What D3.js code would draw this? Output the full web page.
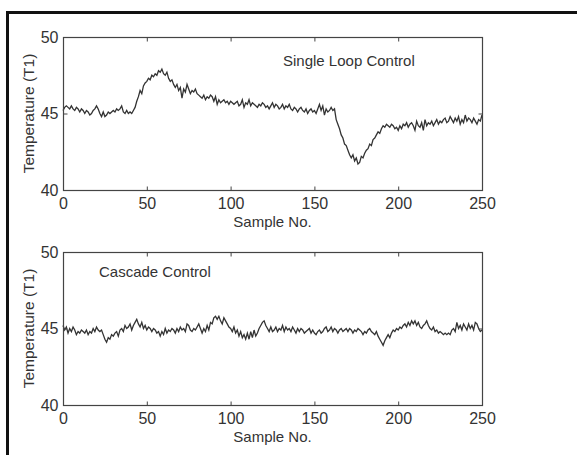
<!DOCTYPE html>
<html>
<head>
<meta charset="utf-8">
<script src="https://cdn.jsdelivr.net/npm/d3@7"></script>
<style>
  body { margin: 0; background: #fff; }
  text { font-family: "Liberation Sans", Arial, sans-serif; fill: #333; }
</style>
</head>
<body>
<script>
var width = 577, height = 455;

// x ticks and y ticks
var xTicks = [0, 50, 100, 150, 200, 250];
var yTicks = [40, 45, 50];

// single loop control, samples 0..250
var singleLoop = [
  45.2, 45.4, 45.5, 45.4, 45.3, 45.5, 45.3, 45.2, 45.4, 45.3,
  45.1, 45.3, 45.2, 45.0, 45.2, 45.1, 44.9, 45.0, 45.2, 45.3,
  45.5, 45.3, 45.0, 44.8, 45.1, 44.8, 44.9, 45.1, 45.0, 45.1,
  45.2, 45.1, 45.3, 45.2, 45.3, 45.5, 45.1, 45.0, 45.2, 45.0,
  45.1, 45.0, 45.2, 45.4, 45.8, 46.1, 46.5, 46.3, 46.8, 47.0,
  47.1, 47.3, 47.2, 47.5, 47.4, 47.6, 47.5, 47.8, 47.7, 47.9,
  47.6, 47.5, 47.7, 47.3, 47.1, 47.2, 46.9, 46.7, 46.9, 46.5,
  46.7, 46.0, 46.6, 46.4, 46.9, 46.6, 46.3, 46.5, 46.4, 46.6,
  46.3, 46.2, 46.1, 46.0, 46.2, 45.9, 46.1, 46.0, 46.2, 46.1,
  45.8, 46.1, 45.6, 45.9, 45.7, 45.8, 45.9, 45.7, 45.8, 45.6,
  45.8, 45.7, 45.6, 45.7, 45.8, 45.5, 45.6, 45.9, 45.4, 45.7,
  45.6, 45.9, 45.5, 45.7, 45.6, 45.5, 45.4, 45.6, 45.5, 45.7,
  45.6, 45.4, 45.5, 45.3, 45.5, 45.7, 45.4, 45.6, 45.5, 45.3,
  45.4, 45.6, 45.3, 45.5, 45.4, 45.6, 45.3, 45.2, 45.4, 45.3,
  45.1, 45.3, 45.4, 45.2, 45.1, 45.3, 45.0, 45.2, 45.3, 45.1,
  45.2, 45.0, 45.3, 45.6, 45.2, 45.5, 44.9, 45.3, 45.1, 45.2,
  45.4, 45.2, 45.3, 44.6, 44.3, 44.0, 43.6, 43.4, 43.0, 42.9,
  42.6, 42.3, 42.1, 42.3, 41.9, 42.1, 41.7, 41.8, 42.2, 42.1,
  42.4, 42.6, 42.7, 43.0, 42.9, 43.3, 43.4, 43.6, 43.8, 43.7,
  44.0, 44.2, 44.1, 44.3, 44.2, 44.1, 44.3, 44.2, 44.0, 44.1,
  43.9, 44.2, 44.0, 44.3, 44.2, 44.4, 44.1, 44.3, 44.4, 44.2,
  43.9, 44.5, 44.2, 44.1, 44.4, 43.9, 44.6, 44.2, 44.4, 44.3,
  44.5, 44.2, 44.4, 44.6, 44.3, 44.5, 44.4, 44.6, 44.7, 44.4,
  44.5, 44.8, 44.6, 44.4, 44.7, 44.5, 44.8, 44.3, 44.6, 44.4,
  44.9, 44.5, 44.7, 44.6, 44.4, 44.7, 44.5, 44.3, 44.6, 44.5,
  44.9
];

// cascade control, samples 0..250
var cascade = [
  45.2, 44.9, 45.1, 44.7, 45.0, 44.8, 45.1, 44.9, 44.6, 44.8,
  44.7, 44.9, 44.8, 44.7, 44.9, 44.6, 44.8, 44.7, 45.0, 44.8,
  45.1, 44.9, 44.8, 44.9, 44.6, 44.3, 44.1, 44.4, 44.3, 44.6,
  44.5, 44.7, 44.8, 44.5, 44.9, 45.0, 44.8, 45.2, 45.0, 45.1,
  45.3, 44.9, 45.2, 45.4, 45.6, 45.3, 45.1, 45.4, 45.0, 45.2,
  44.9, 45.1, 45.0, 44.8, 45.0, 44.9, 44.7, 44.8, 44.5, 44.8,
  44.6, 45.0, 44.7, 44.9, 44.8, 45.0, 44.9, 44.7, 45.0, 44.8,
  45.1, 44.9, 45.0, 44.8, 45.3, 45.2, 44.9, 44.8, 45.0, 44.9,
  45.1, 45.3, 45.0, 44.7, 45.0, 44.8, 45.2, 44.9, 45.4, 45.3,
  45.7, 45.8, 45.6, 45.8, 45.5, 45.3, 45.7, 45.5, 45.3, 45.1,
  45.0, 44.8, 45.1, 44.7, 44.9, 44.5, 44.8, 44.4, 44.6, 44.3,
  44.7, 44.3, 44.8, 44.4, 44.9, 44.5, 44.7, 45.0, 45.2, 45.4,
  45.5, 45.2, 45.0, 44.8, 45.1, 44.8, 44.9, 45.1, 44.8, 45.0,
  44.9, 45.2, 44.8, 45.1, 44.9, 45.0, 44.8, 45.1, 44.9, 44.7,
  45.0, 44.8, 45.0, 44.9, 44.7, 44.8, 44.9, 45.0, 44.7, 44.9,
  44.7, 44.6, 44.8, 44.9, 44.7, 44.8, 45.0, 45.1, 44.8, 44.9,
  45.1, 44.8, 45.0, 44.9, 44.7, 44.9, 45.0, 44.8, 44.9, 45.0,
  44.8, 45.0, 44.9, 44.7, 44.9, 44.8, 45.0, 44.9, 44.8, 44.6,
  44.8, 44.7, 44.9, 45.0, 44.8, 44.7, 44.6, 44.8, 44.5, 44.3,
  44.1, 43.9, 44.2, 44.4, 44.6, 44.4, 44.7, 44.9, 44.8, 45.0,
  44.9, 45.1, 45.0, 45.2, 45.3, 45.1, 45.4, 45.2, 45.5, 45.3,
  45.5, 45.2, 45.4, 45.1, 45.0, 45.2, 45.3, 45.5, 45.2, 45.0,
  44.9, 45.1, 44.8, 44.9, 44.7, 44.8, 44.7, 44.6, 44.7, 44.6,
  44.7, 44.6, 44.9, 45.0, 44.8, 45.4, 45.0, 45.2, 44.9, 45.3,
  45.1, 44.9, 45.3, 45.0, 45.2, 44.9, 45.4, 45.3, 45.0, 44.8,
  44.9
];

var svg = d3.select("body")
            .append("svg")
            .attr("width", width)
            .attr("height", height);

// outer frame (runs off the right and bottom edge)
svg.append("rect")
   .attr("x", 7.5)
   .attr("y", 12.5)
   .attr("width", 640)
   .attr("height", 520)
   .attr("fill", "none")
   .attr("stroke", "#111")
   .attr("stroke-width", 3);

var left = 63, right = 482;

function drawPanel(data, top, bottom, title, titleX, titleDy) {
  var xScale = d3.scaleLinear().domain([0, 250]).range([left, right]);
  var yScale = d3.scaleLinear().domain([40, 50]).range([bottom, top]);

  var g = svg.append("g");

  // data line
  var line = d3.line()
               .x(function(d, i) { return xScale(i); })
               .y(function(d) { return yScale(d); });

  g.append("path")
   .datum(data)
   .attr("d", line)
   .attr("fill", "none")
   .attr("stroke", "#333")
   .attr("stroke-width", 1.3);

  // box
  g.append("rect")
   .attr("x", left + 0.5)
   .attr("y", top + 0.5)
   .attr("width", right - left)
   .attr("height", bottom - top)
   .attr("fill", "none")
   .attr("stroke", "#444")
   .attr("stroke-width", 1.2);

  // bottom axis, ticks pointing inward
  var xAxis = d3.axisBottom(xScale).tickValues(xTicks).tickSizeInner(-4).tickSizeOuter(0).tickPadding(7);
  var gx = g.append("g")
            .attr("transform", "translate(0," + (bottom + 0.5) + ")")
            .call(xAxis);
  // top ticks
  var gxt = g.append("g")
             .attr("transform", "translate(0," + (top + 0.5) + ")")
             .call(d3.axisTop(xScale).tickValues(xTicks).tickSizeInner(-4).tickSizeOuter(0).tickFormat(""));

  // left axis
  var yAxis = d3.axisLeft(yScale).tickValues(yTicks).tickSizeInner(-4).tickSizeOuter(0).tickPadding(5);
  var gy = g.append("g")
            .attr("transform", "translate(" + (left + 0.5) + ",0)")
            .call(yAxis);
  var gyr = g.append("g")
             .attr("transform", "translate(" + (right + 0.5) + ",0)")
             .call(d3.axisRight(yScale).tickValues(yTicks).tickSizeInner(-4).tickSizeOuter(0).tickFormat(""));

  [gx, gxt, gy, gyr].forEach(function(a) {
    a.select(".domain").remove();
    a.selectAll("line").attr("stroke", "#444");
    a.selectAll("text")
     .style("font-family", "'Liberation Sans', Arial, sans-serif")
     .style("font-size", "16px")
     .attr("fill", "#444");
  });

  // axis titles
  g.append("text")
   .attr("x", (left + right) / 2)
   .attr("y", bottom + 37)
   .attr("text-anchor", "middle")
   .style("font-size", "15px")
   .attr("fill", "#444")
   .text("Sample No.");

  g.append("text")
   .attr("transform", "translate(34," + ((top + bottom) / 2) + ") rotate(-90)")
   .attr("text-anchor", "middle")
   .style("font-size", "15.5px")
   .attr("fill", "#444")
   .text("Temperature (T1)");

  // panel label
  g.append("text")
   .attr("x", titleX)
   .attr("y", top + titleDy)
   .style("font-size", "15px")
   .attr("fill", "#444")
   .text(title);
}

drawPanel(singleLoop, 37, 190, "Single Loop Control", 283, 29);
drawPanel(cascade, 252, 405, "Cascade Control", 99, 25);
</script>
</body>
</html>
